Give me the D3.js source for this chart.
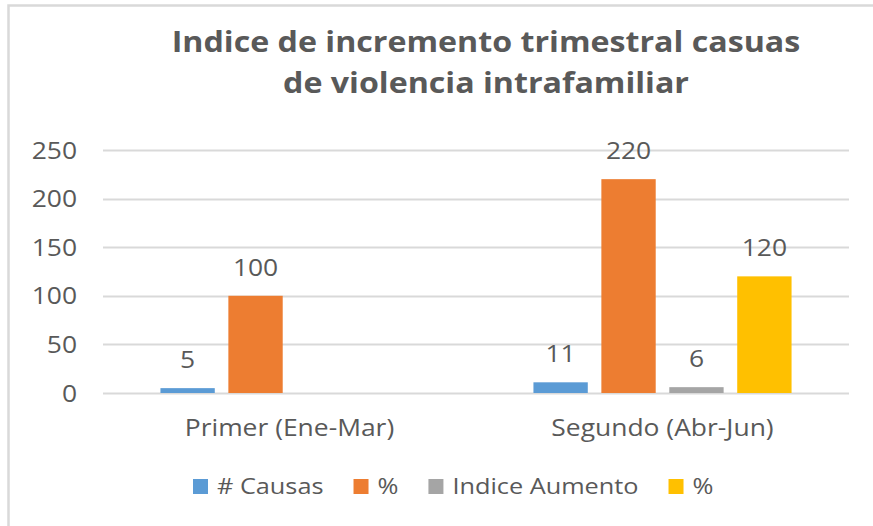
<!DOCTYPE html>
<html>
<head>
<meta charset="utf-8">
<script src="https://cdn.jsdelivr.net/npm/d3@7"></script>
<style>
  body { margin: 0; background: #fff; }
  svg text { font-family: "Open Sans", sans-serif; fill: #595959; }
</style>
</head>
<body>
<div id="vis"></div>
<script>
'use strict';

// Chart data
const categories = ['Primer (Ene-Mar)', 'Segundo (Abr-Jun)'];
const seriesNames = ['# Causas', '%', 'Indice Aumento', '%'];
const seriesColors = ['#5b9bd5', '#ed7d31', '#a5a5a5', '#ffc000'];
const causas = [5, 11];
const porcentaje = [100, 220];
const indiceAumento = [null, 6];
const porcentajeAumento = [null, 120];
const yTicks = [0, 50, 100, 150, 200, 250];

const seriesValues = [causas, porcentaje, indiceAumento, porcentajeAumento];

// Sizing
const width = 873;
const height = 526;
const plot = { left: 103, right: 849, top: 150, bottom: 393 };

// the source picture is a bit wide, so text gets stretched horizontally
const sx = 1.15;
function place(x, y) { return 'translate(' + x + ',' + y + ') scale(' + sx + ',1)'; }

const svg = d3.select('#vis')
  .append('svg')
  .attr('width', width)
  .attr('height', height);

// chart frame (only top and left edges are visible in the crop)
svg.append('path')
  .attr('d', 'M8.5,' + height + 'V5.5H' + width)
  .attr('fill', 'none')
  .attr('stroke', '#d9d9d9')
  .attr('stroke-width', 2.5);

// Title
const titleLines = ['Indice de incremento trimestral casuas', 'de violencia intrafamiliar'];
svg.append('g')
  .selectAll('text')
  .data(titleLines)
  .join('text')
  .attr('transform', (d, i) => place(486, 52 + i * 41))
  .attr('text-anchor', 'middle')
  .style('font-size', '28px')
  .style('font-weight', 'bold')
  .text(d => d);

// Scales
const y = d3.scaleLinear()
  .domain([0, 250])
  .range([plot.bottom, plot.top]);

const x0 = d3.scaleBand()
  .domain(categories)
  .range([plot.left, plot.right])
  .paddingInner(0.308)
  .paddingOuter(0.154);

const x1 = d3.scaleBand()
  .domain(d3.range(seriesNames.length))
  .range([0, x0.bandwidth()])
  .paddingInner(0.2);

// Gridlines
svg.append('g')
  .selectAll('line')
  .data(yTicks)
  .join('line')
  .attr('x1', plot.left)
  .attr('x2', plot.right)
  .attr('y1', d => Math.round(y(d)) + 0.5)
  .attr('y2', d => Math.round(y(d)) + 0.5)
  .attr('stroke', '#d9d9d9')
  .attr('stroke-width', 2);

// Y axis labels
const yAxis = svg.append('g')
  .attr('transform', 'translate(77,0)')
  .call(d3.axisLeft(y).tickValues(yTicks).tickSize(0).tickPadding(0));
yAxis.select('.domain').remove();
yAxis.selectAll('text')
  .style('font-size', '23px')
  .attr('fill', '#595959')
  .attr('dy', '0.35em')
  .attr('transform', 'scale(' + sx + ',1)');

// X axis labels
const xAxis = svg.append('g')
  .attr('transform', 'translate(0,' + plot.bottom + ')')
  .call(d3.axisBottom(x0).tickSize(0).tickPadding(0));
xAxis.select('.domain').remove();
xAxis.selectAll('text')
  .style('font-size', '23px')
  .attr('fill', '#595959')
  .attr('y', 43)
  .attr('dy', 0)
  .attr('transform', 'scale(' + sx + ',1)');

// Bars
const cells = [];
categories.forEach(function (c, ci) {
  seriesValues.forEach(function (vals, si) {
    if (vals[ci] !== null) cells.push({ cat: c, s: si, value: vals[ci] });
  });
});

const groups = svg.append('g')
  .selectAll('g')
  .data(cells)
  .join('g');

groups.append('rect')
  .attr('x', d => x0(d.cat) + x1(d.s))
  .attr('y', d => y(d.value))
  .attr('width', x1.bandwidth())
  .attr('height', d => y(0) - y(d.value))
  .attr('fill', d => seriesColors[d.s]);

groups.append('text')
  .attr('transform', d => place(x0(d.cat) + x1(d.s) + x1.bandwidth() / 2, y(d.value) - 20))
  .attr('text-anchor', 'middle')
  .style('font-size', '23px')
  .text(d => d.value);

// Legend, laid out left to right from the measured text widths
const legend = svg.append('g')
  .selectAll('g')
  .data(seriesNames)
  .join('g');

legend.append('rect')
  .attr('y', 479)
  .attr('width', 15)
  .attr('height', 15)
  .attr('fill', (d, i) => seriesColors[i]);

legend.append('text')
  .style('font-size', '22px')
  .text(d => d);

let lx = 193;
legend.each(function () {
  const g = d3.select(this);
  const t = g.select('text');
  g.select('rect').attr('x', lx);
  t.attr('transform', place(lx + 24, 494));
  lx += 24 + t.node().getComputedTextLength() * sx + 30;
});
</script>
</body>
</html>
